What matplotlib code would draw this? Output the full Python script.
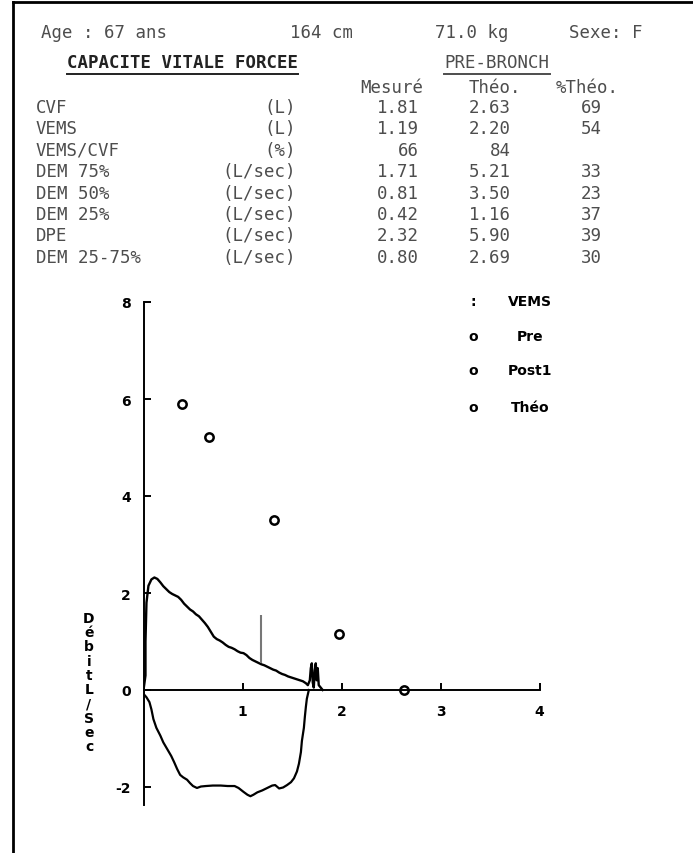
import matplotlib
matplotlib.use('Agg')
import matplotlib.pyplot as plt
from matplotlib.lines import Line2D
from matplotlib.ticker import FixedLocator

W, H = 693, 854

# patient header
header = ["Age : 67 ans", "164 cm", "71.0 kg", "Sexe: F"]

# table
row_names = ["CVF", "VEMS", "VEMS/CVF", "DEM 75%", "DEM 50%", "DEM 25%", "DPE", "DEM 25-75%"]
row_units = ["(L)", "(L)", "(%)", "(L/sec)", "(L/sec)", "(L/sec)", "(L/sec)", "(L/sec)"]
mesure = ["1.81", "1.19", "66", "1.71", "0.81", "0.42", "2.32", "0.80"]
theo = ["2.63", "2.20", "84", "5.21", "3.50", "1.16", "5.90", "2.69"]
pct_theo = ["69", "54", "", "33", "23", "37", "39", "30"]

# flow-volume loop, expiration (volume L, flow L/sec)
exp_volume = [0.00, 0.02, 0.02, 0.03, 0.05, 0.08, 0.11, 0.14, 0.17, 0.20, 0.23, 0.26, 0.29,
              0.32, 0.35, 0.38, 0.41, 0.44, 0.47, 0.50, 0.53, 0.56, 0.59, 0.62, 0.65, 0.68,
              0.71, 0.74, 0.77, 0.80, 0.83, 0.86, 0.89, 0.92, 0.95, 0.98, 1.01, 1.04, 1.07,
              1.10, 1.13, 1.16, 1.19, 1.22, 1.25, 1.28, 1.31, 1.34, 1.37, 1.40, 1.43, 1.46,
              1.49, 1.52, 1.55, 1.58, 1.61, 1.64, 1.66, 1.68, 1.69, 1.70, 1.71, 1.72, 1.73,
              1.74, 1.75, 1.76, 1.77, 1.79, 1.81]
exp_flow = [0.00, 0.30, 1.00, 1.80, 2.15, 2.28, 2.32, 2.29, 2.22, 2.14, 2.08, 2.02, 1.98,
            1.95, 1.92, 1.86, 1.78, 1.72, 1.66, 1.62, 1.56, 1.52, 1.45, 1.38, 1.30, 1.20,
            1.10, 1.05, 1.02, 0.98, 0.93, 0.89, 0.87, 0.84, 0.80, 0.77, 0.76, 0.72, 0.66,
            0.62, 0.59, 0.56, 0.53, 0.51, 0.48, 0.45, 0.42, 0.40, 0.36, 0.33, 0.31, 0.28,
            0.26, 0.24, 0.22, 0.20, 0.18, 0.14, 0.10, 0.20, 0.45, 0.55, 0.15, 0.05, 0.40,
            0.55, 0.20, 0.45, 0.10, 0.05, 0.00]

# inspiration
insp_volume = [0.00, 0.03, 0.06, 0.08, 0.10, 0.13, 0.17, 0.20, 0.24, 0.28, 0.31, 0.34, 0.37,
               0.40, 0.44, 0.47, 0.50, 0.54, 0.58, 0.63, 0.70, 0.78, 0.85, 0.92, 0.96, 1.01,
               1.05, 1.08, 1.11, 1.15, 1.20, 1.25, 1.30, 1.33, 1.37, 1.41, 1.45, 1.49, 1.52,
               1.55, 1.57, 1.59, 1.60, 1.62, 1.63, 1.64, 1.65, 1.67]
insp_flow = [-0.08, -0.15, -0.25, -0.40, -0.60, -0.78, -0.94, -1.08, -1.22, -1.36, -1.49,
             -1.63, -1.75, -1.80, -1.85, -1.92, -1.98, -2.02, -1.99, -1.98, -1.97, -1.97,
             -1.98, -1.98, -2.02, -2.10, -2.16, -2.19, -2.16, -2.11, -2.07, -2.02, -1.97,
             -1.96, -2.03, -2.01, -1.96, -1.90, -1.82, -1.68, -1.52, -1.28, -1.05, -0.78,
             -0.55, -0.35, -0.18, 0.00]

# predicted points (DPE, DEM75, DEM50, DEM25, CVF)
theo_volume = [0.39, 0.66, 1.32, 1.97, 2.63]
theo_flow = [5.90, 5.21, 3.50, 1.16, 0.00]

vems = 1.19
vems_mark = (0.55, 1.55)

legend_symbols = [":", "o", "o", "o"]
legend_labels = ["VEMS", "Pre", "Post1", "Théo"]

GREY = '#4d4d4d'
MONO = 'DejaVu Sans Mono'
FS = 12.5

plt.rcParams['axes.unicode_minus'] = False


def fx(x):
    return x / W


def fy(y):
    return 1 - y / H


def underline(fig, txt, offset, color):
    fig.canvas.draw()
    bb = txt.get_window_extent(fig.canvas.get_renderer())
    bb = bb.transformed(fig.transFigure.inverted())
    y = bb.y0 - offset / H
    fig.add_artist(Line2D([bb.x0, bb.x1], [y, y], color=color, lw=1.4))


fig = plt.figure(figsize=(W / 100, H / 100), dpi=100)
fig.patch.set_facecolor('white')

# page frame (top and left edges only)
fig.add_artist(Line2D([fx(13), fx(W)], [fy(3), fy(3)], color='black', lw=2))
fig.add_artist(Line2D([fx(13), fx(13)], [fy(3), fy(H)], color='black', lw=2))

# header line
header_x = [104, 322, 472, 606]
for s, x in zip(header, header_x):
    fig.text(fx(x), fy(33), s, family=MONO, fontsize=FS, color=GREY, ha='center', va='center')

t = fig.text(fx(182), fy(63), "CAPACITE VITALE FORCEE", family=MONO, fontsize=FS,
             color='#222222', weight='bold', ha='center', va='center')
underline(fig, t, 3, '#222222')
t = fig.text(fx(497), fy(63), "PRE-BRONCH", family=MONO, fontsize=FS, color=GREY,
             ha='center', va='center')
underline(fig, t, 3, GREY)

for s, x in zip(["Mesuré", "Théo.", "%Théo."], [392, 495, 587]):
    fig.text(fx(x), fy(88), s, family=MONO, fontsize=FS, color=GREY, ha='center', va='center')

for i in range(len(row_names)):
    y = fy(108 + 21.4 * i)
    fig.text(fx(36), y, row_names[i], family=MONO, fontsize=FS, color=GREY, va='center')
    fig.text(fx(296), y, row_units[i], family=MONO, fontsize=FS, color=GREY, ha='right', va='center')
    fig.text(fx(419), y, mesure[i], family=MONO, fontsize=FS, color=GREY, ha='right', va='center')
    fig.text(fx(511), y, theo[i], family=MONO, fontsize=FS, color=GREY, ha='right', va='center')
    fig.text(fx(602), y, pct_theo[i], family=MONO, fontsize=FS, color=GREY, ha='right', va='center')

# flow-volume graph
x0_px, y0_px = 143.5, 691
sx, sy = 99.0, 48.5
xlim = (0, 4.1)
ylim = (-2.4, 8.1)
left = x0_px / W
bottom = (H - (y0_px - ylim[0] * sy)) / H
ax = fig.add_axes([left, bottom, (xlim[1] - xlim[0]) * sx / W, (ylim[1] - ylim[0]) * sy / H])
ax.set_xlim(*xlim)
ax.set_ylim(*ylim)
ax.patch.set_alpha(0)

ax.plot(exp_volume, exp_flow, color='black', lw=1.7, solid_joinstyle='round')
ax.plot(insp_volume, insp_flow, color='black', lw=1.6, solid_joinstyle='round')
ax.vlines(vems, vems_mark[0], vems_mark[1], color='#777777', lw=1.5)
ax.plot(theo_volume, theo_flow, 'o', ms=6, mfc='white', mec='black', mew=1.8, clip_on=False)

for s in ['top', 'right']:
    ax.spines[s].set_visible(False)
ax.spines['left'].set_position(('data', 0))
ax.spines['bottom'].set_position(('data', 0))
ax.spines['left'].set_bounds(-2.37, 8)
ax.spines['bottom'].set_bounds(0, 4)
ax.spines['left'].set_linewidth(1.4)
ax.spines['bottom'].set_linewidth(1.4)

ax.set_xticks([1, 2, 3, 4])
ax.set_yticks([-2, 0, 2, 4, 6, 8])
ax.xaxis.set_minor_locator(FixedLocator([1, 2, 3, 4]))
ax.yaxis.set_minor_locator(FixedLocator([8]))
ax.tick_params(axis='both', which='major', direction='in', length=5, width=1.4,
               labelsize=10)
ax.tick_params(axis='x', which='major', pad=10)
ax.tick_params(axis='y', which='major', pad=9)
ax.tick_params(axis='x', which='minor', direction='out', length=3, width=1.4)
ax.tick_params(axis='y', which='minor', direction='out', length=6, width=1.4)
for lab in ax.get_xticklabels() + ax.get_yticklabels():
    lab.set_fontweight('bold')

# stacked axis title
fig.text(fx(89), fy(683), "\n".join("DébitL/Sec"), fontsize=10, weight='bold',
         ha='center', va='center', linespacing=1.03)

# legend block
legend_y = [302, 337, 371, 408]
for sym, lab, y in zip(legend_symbols, legend_labels, legend_y):
    fig.text(fx(473), fy(y), sym, fontsize=10, weight='bold', ha='center', va='center')
    fig.text(fx(530), fy(y), lab, fontsize=10, weight='bold', ha='center', va='center')

fig.savefig('out.png', dpi=100)
